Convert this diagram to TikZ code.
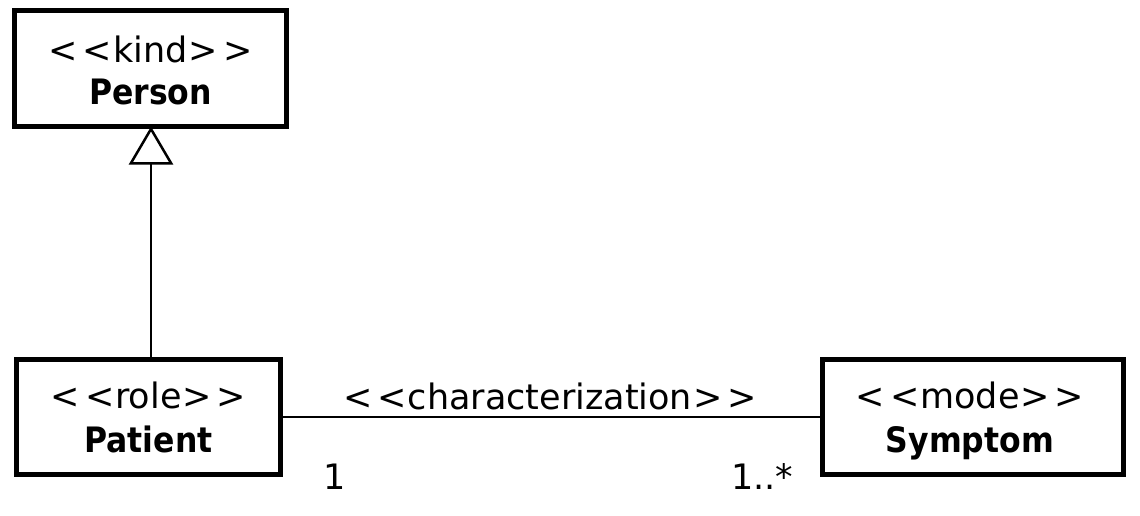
\documentclass[tikz,border=0pt]{standalone}
\usepackage{fontspec}
\setmainfont{DejaVu Sans}[BoldFeatures={FakeStretch=0.9}]
\usetikzlibrary{arrows.meta}
\newcommand\stereo[1]{<\kern5pt<\kern1pt#1\kern1pt>\kern5pt>}
\tikzset{
  umlbox/.style={draw, line width=5pt, inner sep=0pt, rectangle},
  stereolbl/.style={anchor=base, inner sep=0pt, font=\fontsize{35}{40}\selectfont},
  namelbl/.style={anchor=base, inner sep=0pt, font=\fontsize{35}{40}\selectfont\bfseries},
  multlbl/.style={anchor=base, inner sep=0pt, font=\fontsize{35}{40}\selectfont},
  conn/.style={line width=2.8pt},
}
\begin{document}
\begin{tikzpicture}[x=1pt,y=-1pt]
\useasboundingbox (0,0) rectangle (1140,516);
% boxes
\node[umlbox, minimum width=272pt, minimum height=116pt] (person) at (150.5,68.5) {};
\node[umlbox, minimum width=264pt, minimum height=115pt] (patient) at (148.5,417) {};
\node[umlbox, minimum width=301pt, minimum height=115pt] (symptom) at (973,417) {};
% texts
\node[stereolbl] (personst) at (150.5,63) {\stereo{kind}};
\node[namelbl] (personnm) at (150.5,105) {Person};
\node[stereolbl] (patientst) at (148.5,408) {\stereo{role}};
\node[namelbl] (patientnm) at (148.5,452) {Patient};
\node[stereolbl] (symptomst) at (970,408) {\stereo{mode}};
\node[namelbl] (symptomnm) at (970,452) {Symptom};
% generalization
\coordinate (genbot) at (151,359.5);
\coordinate (gentop) at (151,126.5);
\draw[conn, -{Triangle[open, length=38pt, width=44pt, line width=2.5pt]}] (genbot) -- (gentop);
% association
\draw[conn] (patient.east) -- (symptom.west);
\node[stereolbl] (assoc) at (550,409) {\stereo{characterization}};
\node[multlbl] (m1) at (335,489) {1};
\node[multlbl, anchor=base west] (m2) at (731,489) {1..*};
\end{tikzpicture}
\end{document}
